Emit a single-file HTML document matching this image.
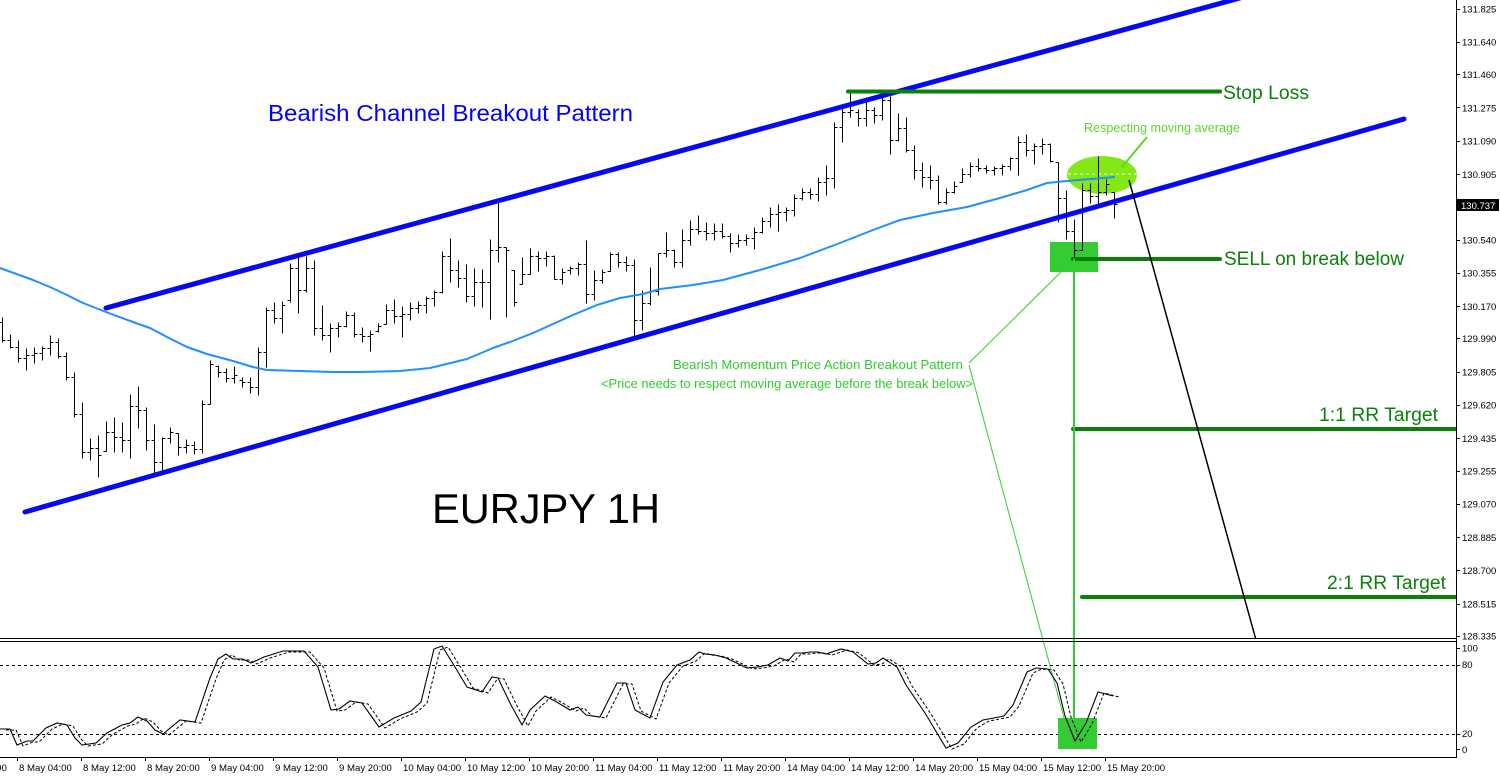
<!DOCTYPE html>
<html><head><meta charset="utf-8"><style>
html,body{margin:0;padding:0;background:#fff;}
svg{display:block;}
text{font-family:"Liberation Sans",Arial,sans-serif;}
</style></head><body>
<svg width="1500" height="777" viewBox="0 0 1500 777" xmlns="http://www.w3.org/2000/svg">
<defs>
<clipPath id="main"><rect x="0" y="0" width="1456" height="638"/></clipPath>
<clipPath id="sub"><rect x="0" y="642" width="1456" height="115"/></clipPath>
<path id="st" d="M0 729 L10 729 L17 745 L27 741 L33 741 L46 728 L57 723 L67 725 L75 738 L82 745 L96 743 L107 733 L122 725 L130 723 L138 717 L147 721 L155 730 L163 734 L180 720 L195 722 L210 678 L218 659 L226 654 L233 659 L243 659 L251 663 L264 657 L283 651 L304 651 L318 667 L331 710 L339 709 L350 701 L362 703 L379 727 L394 718 L411 711 L421 702 L434 649 L442 646 L455 667 L467 687 L482 692 L492 677 L498 678 L511 705 L522 725 L530 710 L545 696 L555 701 L570 710 L578 707 L586 715 L600 717 L617 683 L626 683 L635 710 L650 718 L663 682 L677 665 L690 660 L699 652 L705 654 L715 655 L726 658 L747 668 L757 667 L768 665 L780 658 L788 661 L795 653 L803 653 L810 652 L818 652 L826 654 L841 649 L853 652 L868 664 L876 663 L883 658 L897 667 L906 685 L925 713 L937 733 L946 748 L958 743 L971 727 L983 720 L994 718 L1004 716 L1013 705 L1027 672 L1036 668 L1048 669 L1057 683 L1065 716 L1075 741 L1086 723 L1098 692 L1113 696"/>
</defs>
<rect x="0" y="0" width="1500" height="777" fill="#fff"/>

<g clip-path="url(#main)">
<!-- ellipse & boxes -->
<ellipse cx="1102" cy="175" rx="35" ry="19" fill="#84e814"/>
<line x1="1068" y1="174" x2="1137" y2="174" stroke="#fff" stroke-width="1" stroke-dasharray="3,3"/>
<rect x="1050" y="242" width="48" height="30" fill="#33cc33"/>

<!-- bars -->
<path fill="none" stroke="#000" stroke-width="1" shape-rendering="crispEdges" transform="translate(0.5,0.5)" d="M2 317V342M-1 322H2M2 340H5M10 334V348M7 340H10M10 347H13M18 340V362M15 347H18M18 358H21M26 348V370M23 358H26M26 355H29M34 347V363M31 355H34M34 353H37M42 346V360M39 353H42M42 348H45M50 335V355M47 348H50M50 342H53M58 338V358M55 342H58M58 356H61M66 352V380M63 356H66M66 377H69M74 372V417M71 377H74M74 414H77M82 402V458M79 414H82M82 452H85M90 438V460M87 452H90M90 448H93M98 435V477M95 448H98M98 455H101M106 421V451M103 451H106M106 432H109M114 417V452M111 432H114M114 437H117M122 422V452M119 437H122M122 440H125M130 394V458M127 440H130M130 406H133M138 386V428M135 406H138M138 410H141M146 407V450M143 410H146M146 440H149M154 424V473M151 440H154M154 462H157M162 437V473M159 462H162M162 438H165M170 427V443M167 438H170M170 432H173M178 433V455M175 433H178M178 447H181M186 439V453M183 447H186M186 445H189M194 441V454M191 445H194M194 449H197M202 400V453M199 449H202M202 404H205M210 360V404M207 404H210M210 364H213M218 365V377M215 366H218M218 372H221M226 368V382M223 372H226M226 378H229M234 366V383M231 378H234M234 375H237M242 377V387M239 380H242M242 382H245M250 377V393M247 382H250M250 387H253M258 347V395M255 387H258M258 352H261M266 307V367M263 352H266M266 310H269M274 302V323M271 310H274M274 318H277M282 301V333M279 318H282M282 305H285M290 263V302M287 300H290M290 268H293M298 256V313M295 268H298M298 290H301M306 256V292M303 290H306M306 268H309M314 260V335M311 268H314M314 328H317M322 305V340M319 328H322M322 335H325M330 323V352M327 335H330M330 328H333M338 322V337M335 328H338M338 326H341M346 311V327M343 326H346M346 315H349M354 312V337M351 315H354M354 334H357M362 327V342M359 334H362M362 336H365M370 330V351M367 336H370M370 334H373M378 323V332M375 331H378M378 326H381M386 304V324M383 324H386M386 310H389M394 299V323M391 310H394M394 316H397M402 306V337M399 316H402M402 314H405M410 302V320M407 314H410M410 308H413M418 301V313M415 308H418M418 305H421M426 296V313M423 305H426M426 298H429M434 290V306M431 298H434M434 292H437M442 251V293M439 292H442M442 256H445M450 238V282M447 256H450M450 270H453M458 260V287M455 270H458M458 278H461M466 264V302M463 278H466M466 296H469M474 268V306M471 296H474M474 282H477M482 269V307M479 282H482M482 282H485M490 239V319M487 282H490M490 250H493M498 202V262M495 250H498M498 247H501M506 247V317M503 247H506M506 250H509M514 270V306M511 270H514M514 302H517M522 257V284M519 284H522M522 274H525M530 248V274M527 274H530M530 256H533M538 251V271M535 256H538M538 258H541M546 251V266M543 258H546M546 256H549M554 255V279M551 256H554M554 279H557M562 268V284M559 279H562M562 272H565M570 266V274M567 270H570M570 268H573M578 262V275M575 268H578M578 264H581M586 240V303M583 264H586M586 294H589M594 270V300M591 294H594M594 280H597M602 269V283M599 280H602M602 272H605M610 252V271M607 271H610M610 254H613M618 252V267M615 254H618M618 262H621M626 256V271M623 262H626M626 265H629M634 259V338M631 265H634M634 320H637M642 290V330M639 320H642M642 303H645M650 267V305M647 303H650M650 291H653M658 253V295M655 291H658M658 253H661M666 232V257M663 253H666M666 250H669M674 249V267M671 250H674M674 262H677M682 229V267M679 262H682M682 240H685M690 220V245M687 240H690M690 229H693M698 215V234M695 229H698M698 231H701M706 222V240M703 231H706M706 233H709M714 223V240M711 233H714M714 231H717M722 223V238M719 231H722M722 236H725M730 233V252M727 236H730M730 243H733M738 234V247M735 243H738M738 240H741M746 234V245M743 240H746M746 238H749M754 227V249M751 238H754M754 232H757M762 217V233M759 232H762M762 221H765M770 207V227M767 221H770M770 214H773M778 204V231M775 214H778M778 212H781M786 207V221M783 212H786M786 210H789M794 194V216M791 210H794M794 198H797M802 188V200M799 198H802M802 192H805M810 188V199M807 192H810M810 194H813M818 177V201M815 194H818M818 182H821M826 165V195M823 182H826M826 178H829M834 122V188M831 178H834M834 127H837M842 106V142M839 127H842M842 112H845M850 93V117M847 112H850M850 110H853M858 109V126M855 112H858M858 118H861M866 101V126M863 118H866M866 110H869M874 107V123M871 110H874M874 115H877M882 96V120M879 115H882M882 100H885M890 96V154M887 100H890M890 140H893M898 113V141M895 140H898M898 128H901M906 117V152M903 128H906M906 150H909M914 145V179M911 150H914M914 170H917M922 162V187M919 170H922M922 177H925M930 165V189M927 177H930M930 180H933M938 175V204M935 180H938M938 202H941M946 188V204M943 202H946M946 192H949M954 181V193M951 192H954M954 186H957M962 168V182M959 182H962M962 174H965M970 162V177M967 174H970M970 166H973M978 158V171M975 166H978M978 168H981M986 165V173M983 168H986M986 170H989M994 166V175M991 170H994M994 168H997M1002 164V175M999 168H1002M1002 166H1005M1010 157V170M1007 166H1010M1010 158H1013M1018 136V175M1015 158H1018M1018 142H1021M1026 134V156M1023 142H1026M1026 150H1029M1034 143V164M1031 150H1034M1034 146H1037M1042 138V154M1039 146H1042M1042 144H1045M1050 143V162M1047 144H1050M1050 161H1053M1058 162V222M1055 162H1058M1058 198H1061M1066 190V239M1063 198H1066M1066 231H1069M1074 219V258M1071 231H1074M1074 250H1077M1082 183V250M1079 250H1082M1082 190H1085M1090 183V203M1087 190H1090M1090 196H1093M1098 156V205M1095 196H1098M1098 192H1101M1106 179V195M1103 192H1106M1106 184H1109M1114 192V218M1111 192H1114M1114 204H1117"/>

<!-- moving average -->
<path fill="none" stroke="#1e90ff" stroke-width="2" stroke-linejoin="round" d="M0 268 L33 280 L50 287 L67 295 L83 303 L106 312 L133 322 L150 328 L167 337 L187 347 L207 354 L233 361 L253 367 L267 370 L300 371 L333 372 L360 372 L400 371 L430 368 L467 359 L493 348 L510 342 L533 333 L553 324 L573 315 L597 305 L620 298 L643 294 L660 289 L693 285 L723 280 L760 270 L800 258 L840 243 L873 230 L900 220 L933 213 L967 207 L1000 198 L1027 190 L1047 183 L1067 181 L1115 177"/>

<!-- channel lines -->
<line x1="106" y1="308" x2="1240" y2="-2" stroke="#0808f0" stroke-width="5" stroke-linecap="round"/>
<line x1="25" y1="512" x2="1404" y2="119" stroke="#0808f0" stroke-width="5" stroke-linecap="round"/>

<!-- green level lines -->
<line x1="848" y1="91.5" x2="1220" y2="91.5" stroke="#0a7f0a" stroke-width="4" stroke-linecap="round"/>
<line x1="1073" y1="259" x2="1220" y2="259" stroke="#0a7f0a" stroke-width="4" stroke-linecap="round"/>
<line x1="1073" y1="429" x2="1460" y2="429" stroke="#0a7f0a" stroke-width="4" stroke-linecap="round"/>
<line x1="1082" y1="597" x2="1460" y2="597" stroke="#0a7f0a" stroke-width="4" stroke-linecap="round"/>

<!-- black target line -->
<line x1="1129" y1="180" x2="1256" y2="640" stroke="#000" stroke-width="1.5"/>
<!-- ellipse pointer -->
<line x1="1147" y1="137" x2="1122" y2="167" stroke="#5cd62a" stroke-width="2"/>
</g>

<!-- thin green connectors -->
<line x1="969" y1="363" x2="1062" y2="271" stroke="#33cc33" stroke-width="1"/>
<line x1="969" y1="365" x2="1064" y2="718" stroke="#33cc33" stroke-width="1"/>
<!-- vertical green line -->
<line x1="1074" y1="259" x2="1074" y2="740" stroke="#33cc33" stroke-width="2"/>

<!-- texts main -->
<text x="268" y="121" font-size="23" fill="#0000ff" textLength="365" lengthAdjust="spacingAndGlyphs">Bearish Channel Breakout Pattern</text>
<text x="432" y="523" font-size="42" fill="#000" textLength="228" lengthAdjust="spacingAndGlyphs">EURJPY 1H</text>
<text x="1223" y="99" font-size="19" fill="#0b800b" textLength="86" lengthAdjust="spacingAndGlyphs">Stop Loss</text>
<text x="1224" y="265" font-size="19" fill="#0b800b" textLength="180" lengthAdjust="spacingAndGlyphs">SELL on break below</text>
<text x="1319" y="421" font-size="19" fill="#0b800b" textLength="119" lengthAdjust="spacingAndGlyphs">1:1 RR Target</text>
<text x="1327" y="589" font-size="19" fill="#0b800b" textLength="119" lengthAdjust="spacingAndGlyphs">2:1 RR Target</text>
<text x="1084" y="132" font-size="12.5" fill="#5cd62a" textLength="156" lengthAdjust="spacingAndGlyphs">Respecting moving average</text>
<text x="673" y="369" font-size="12.5" fill="#2fcc2f" textLength="290" lengthAdjust="spacingAndGlyphs">Bearish Momentum Price Action Breakout Pattern</text>
<text x="601" y="388" font-size="12.5" fill="#2fcc2f" textLength="372" lengthAdjust="spacingAndGlyphs">&lt;Price needs to respect moving average before the break below&gt;</text>

<!-- panel separators -->
<line x1="0" y1="638.5" x2="1457" y2="638.5" stroke="#000" stroke-width="1"/>
<line x1="0" y1="641.5" x2="1457" y2="641.5" stroke="#000" stroke-width="1"/>
<line x1="0" y1="757.5" x2="1457" y2="757.5" stroke="#000" stroke-width="1"/>
<line x1="1456.5" y1="0" x2="1456.5" y2="758" stroke="#000" stroke-width="1"/>

<!-- stochastic -->
<g clip-path="url(#sub)">
<line x1="0" y1="665.5" x2="1456" y2="665.5" stroke="#000" stroke-width="1" stroke-dasharray="3,3"/>
<line x1="0" y1="734.5" x2="1456" y2="734.5" stroke="#000" stroke-width="1" stroke-dasharray="3,3"/>
<rect x="1058" y="718" width="39" height="31" fill="#33cc33"/>
<use href="#st" fill="none" stroke="#000" stroke-width="1" stroke-dasharray="3,2" transform="translate(6,1)"/>
<use href="#st" fill="none" stroke="#000" stroke-width="1.1"/>
</g>

<!-- price axis -->
<g stroke="#000" stroke-width="1">
<path d="M1456 9.5h4M1456 42.5h4M1456 74.5h4M1456 107.5h4M1456 141.5h4M1456 174.5h4M1456 240.5h4M1456 273.5h4M1456 306.5h4M1456 338.5h4M1456 372.5h4M1456 405.5h4M1456 438.5h4M1456 471.5h4M1456 504.5h4M1456 537.5h4M1456 570.5h4M1456 604.5h4M1456 636.5h4M1456 648.5h4M1456 665.5h4M1456 734.5h4M1456 749.5h4"/>
</g>
<g font-size="9.5" fill="#000">
<text x="1462" y="12.5">131.825</text>
<text x="1462" y="45.7">131.640</text>
<text x="1462" y="78">131.460</text>
<text x="1462" y="111.3">131.275</text>
<text x="1462" y="144.5">131.090</text>
<text x="1462" y="177.8">130.905</text>
<text x="1462" y="243.4">130.540</text>
<text x="1462" y="276.7">130.355</text>
<text x="1462" y="310">130.170</text>
<text x="1462" y="342.2">129.990</text>
<text x="1462" y="375.5">129.805</text>
<text x="1462" y="408.7">129.620</text>
<text x="1462" y="442">129.435</text>
<text x="1462" y="474.3">129.255</text>
<text x="1462" y="507.5">129.070</text>
<text x="1462" y="540.8">128.885</text>
<text x="1462" y="574">128.700</text>
<text x="1462" y="607.3">128.515</text>
<text x="1462" y="639.7">128.335</text>
<text x="1462" y="651.5">100</text>
<text x="1462" y="668">80</text>
<text x="1462" y="737">20</text>
<text x="1462" y="753">0</text>
</g>
<rect x="1457" y="199" width="42" height="12" fill="#000"/>
<text x="1461" y="208.8" font-size="9.5" fill="#fff">130.737</text>

<!-- time axis -->
<path stroke="#000" stroke-width="1" d="M17.5 757v4M81.5 757v4M145.5 757v4M209.5 757v4M273.5 757v4M337.5 757v4M401.5 757v4M465.5 757v4M529.5 757v4M593.5 757v4M657.5 757v4M721.5 757v4M785.5 757v4M849.5 757v4M913.5 757v4M977.5 757v4M1041.5 757v4M1105.5 757v4"/>
<g font-size="9.6" fill="#000">
<text x="-46" y="771">8 May 00:00</text>
<text x="19" y="771">8 May 04:00</text>
<text x="83" y="771">8 May 12:00</text>
<text x="147" y="771">8 May 20:00</text>
<text x="211" y="771">9 May 04:00</text>
<text x="275" y="771">9 May 12:00</text>
<text x="339" y="771">9 May 20:00</text>
<text x="403" y="771">10 May 04:00</text>
<text x="467" y="771">10 May 12:00</text>
<text x="531" y="771">10 May 20:00</text>
<text x="595" y="771">11 May 04:00</text>
<text x="659" y="771">11 May 12:00</text>
<text x="723" y="771">11 May 20:00</text>
<text x="787" y="771">14 May 04:00</text>
<text x="851" y="771">14 May 12:00</text>
<text x="915" y="771">14 May 20:00</text>
<text x="979" y="771">15 May 04:00</text>
<text x="1043" y="771">15 May 12:00</text>
<text x="1107" y="771">15 May 20:00</text>
</g>
</svg>
</body></html>
